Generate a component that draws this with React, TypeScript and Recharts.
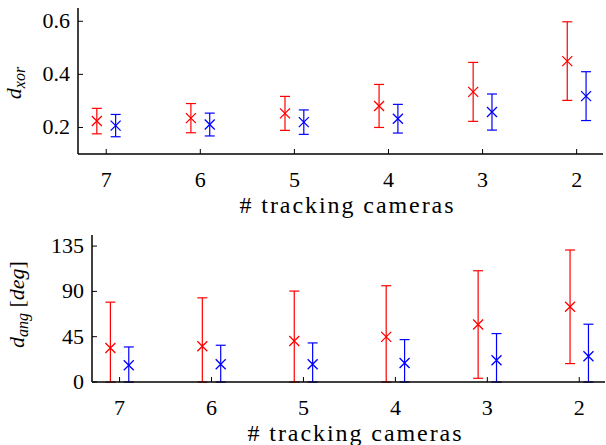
import React from 'react';
import { ScatterChart, Scatter, XAxis, YAxis, ErrorBar, Label } from 'recharts';

// ---- data ----
const cameras = [7, 6, 5, 4, 3, 2];
const xorRedMean = [0.224, 0.235, 0.253, 0.281, 0.334, 0.45];
const xorRedStd = [0.048, 0.055, 0.064, 0.081, 0.111, 0.148];
const xorBlueMean = [0.207, 0.211, 0.22, 0.233, 0.258, 0.318];
const xorBlueStd = [0.042, 0.043, 0.046, 0.054, 0.068, 0.092];
const angRedMean = [33.8, 35.5, 40.8, 44.8, 57.1, 74.7];
const angRedStd = [45.5, 48.1, 49.5, 50.8, 53.4, 56.4];
const angBlueMean = [16.6, 17.6, 17.6, 18.9, 21.6, 25.6];
const angBlueStd = [18.2, 18.9, 21.2, 23.2, 26.5, 31.8];
const xorTicks = [0.2, 0.4, 0.6];
const angTicks = [0, 45, 90, 135];
const xLabelText = '# tracking cameras';

const GROUP_OFFSET = 0.1; // red slightly left, blue slightly right of each camera tick
const X_DOMAIN: [number, number] = [1.72, 7.3];
const XOR_DOMAIN: [number, number] = [0.1, 0.65];
const ANG_DOMAIN: [number, number] = [0, 146];

// error bars are cut at the bottom of the plot box, like the reference
const build = (mean: number[], std: number[], shift: number, yMin: number) =>
  cameras.map((c, i) => ({
    x: c + shift,
    y: mean[i],
    err: [Math.min(std[i], mean[i] - yMin), std[i]],
  }));

const xorRed = build(xorRedMean, xorRedStd, GROUP_OFFSET, XOR_DOMAIN[0]);
const xorBlue = build(xorBlueMean, xorBlueStd, -GROUP_OFFSET, XOR_DOMAIN[0]);
const angRed = build(angRedMean, angRedStd, GROUP_OFFSET, ANG_DOMAIN[0]);
const angBlue = build(angBlueMean, angBlueStd, -GROUP_OFFSET, ANG_DOMAIN[0]);

const RED = '#ff0000';
const BLUE = '#0000ff';
const FONT = 'Liberation Serif';
const TICK_FS = 22;
const TICK_LEN = 5;
const FRAME_W = 1.5;

const crossShape = (color: string) => (props: any) => {
  const { cx, cy } = props;
  if (cx == null || cy == null) return <g />;
  const s = 5;
  return (
    <path
      d={`M${cx - s},${cy - s}L${cx + s},${cy + s}M${cx - s},${cy + s}L${cx + s},${cy - s}`}
      stroke={color}
      strokeWidth={1.3}
      fill="none"
    />
  );
};

const BottomTick = (props: any) => {
  const { x, y, payload } = props;
  return (
    <g>
      <line x1={x} x2={x} y1={y} y2={y - TICK_LEN} stroke="#000" strokeWidth={1} />
      <text x={x} y={y + 33} textAnchor="middle" fontFamily={FONT} fontSize={TICK_FS} fill="#000">
        {payload.value}
      </text>
    </g>
  );
};

const TopTick = (props: any) => {
  const { x, y } = props;
  return <line x1={x} x2={x} y1={y} y2={y + TICK_LEN} stroke="#000" strokeWidth={1} />;
};

const LeftTick = (props: any) => {
  const { x, y, payload } = props;
  return (
    <g>
      <line x1={x} x2={x + TICK_LEN} y1={y} y2={y} stroke="#000" strokeWidth={1} />
      <text x={x - 8} y={y + 7} textAnchor="end" fontFamily={FONT} fontSize={TICK_FS} fill="#000">
        {payload.value}
      </text>
    </g>
  );
};

const RightTick = (props: any) => {
  const { x, y } = props;
  return <line x1={x} x2={x - TICK_LEN} y1={y} y2={y} stroke="#000" strokeWidth={1} />;
};

const xLabel = (props: any) => {
  const vb = props.viewBox || {};
  const cx = vb.x + vb.width / 2 + 6;
  const y = vb.y + 59;
  return (
    <text
      x={cx}
      y={y}
      textAnchor="middle"
      fontFamily={FONT}
      fontSize={24}
      fill="#000"
      textLength={214}
      lengthAdjust="spacing"
    >
      {xLabelText}
    </text>
  );
};

const yLabelXor = (props: any) => {
  const vb = props.viewBox || {};
  const x = vb.x + 21;
  const y = vb.y + vb.height / 2 + 2;
  return (
    <text
      x={x}
      y={y}
      transform={`rotate(-90, ${x}, ${y})`}
      textAnchor="middle"
      fontFamily={FONT}
      fontSize={22}
      fill="#000"
    >
      <tspan fontStyle="italic">d</tspan>
      <tspan fontStyle="italic" fontSize={16} dy={4}>
        xor
      </tspan>
    </text>
  );
};

const yLabelAng = (props: any) => {
  const vb = props.viewBox || {};
  const x = vb.x + 24;
  const y = vb.y + vb.height / 2 - 4;
  return (
    <text
      x={x}
      y={y}
      transform={`rotate(-90, ${x}, ${y})`}
      textAnchor="middle"
      fontFamily={FONT}
      fontSize={22}
      fill="#000"
    >
      <tspan fontStyle="italic">d</tspan>
      <tspan fontStyle="italic" fontSize={16} dy={4}>
        ang
      </tspan>
      <tspan dy={-4}> [</tspan>
      <tspan fontStyle="italic">deg</tspan>
      <tspan>]</tspan>
    </text>
  );
};

type PanelProps = {
  red: any[];
  blue: any[];
  yDomain: [number, number];
  yTicks: number[];
  yWidth: number;
  height: number;
  margin: { top: number; right: number; bottom: number; left: number };
  xAxisHeight: number;
  yLabel: (p: any) => any;
};

const Panel = ({ red, blue, yDomain, yTicks, yWidth, height, margin, xAxisHeight, yLabel }: PanelProps) => (
  <ScatterChart width={606} height={height} margin={margin}>
    <XAxis
      xAxisId="b"
      type="number"
      dataKey="x"
      domain={X_DOMAIN}
      reversed
      allowDataOverflow
      ticks={cameras}
      interval={0}
      height={xAxisHeight}
      tickSize={0}
      tickMargin={0}
      tickLine={false}
      axisLine={{ stroke: '#000', strokeWidth: FRAME_W }}
      tick={<BottomTick />}
    >
      <Label content={xLabel} />
    </XAxis>
    <XAxis
      xAxisId="t"
      orientation="top"
      type="number"
      dataKey="x"
      domain={X_DOMAIN}
      reversed
      allowDataOverflow
      ticks={cameras}
      interval={0}
      height={0}
      tickSize={0}
      tickMargin={0}
      tickLine={false}
      axisLine={{ stroke: '#000', strokeWidth: FRAME_W }}
      tick={<TopTick />}
    />
    <YAxis
      yAxisId="l"
      type="number"
      dataKey="y"
      domain={yDomain}
      allowDataOverflow
      ticks={yTicks}
      interval={0}
      width={yWidth}
      tickSize={0}
      tickMargin={0}
      tickLine={false}
      axisLine={{ stroke: '#000', strokeWidth: FRAME_W }}
      tick={<LeftTick />}
    >
      <Label content={yLabel} />
    </YAxis>
    <YAxis
      yAxisId="r"
      orientation="right"
      type="number"
      dataKey="y"
      domain={yDomain}
      allowDataOverflow
      ticks={yTicks}
      interval={0}
      width={0}
      tickSize={0}
      tickMargin={0}
      tickLine={false}
      axisLine={{ stroke: '#000', strokeWidth: FRAME_W }}
      tick={<RightTick />}
    />
    <Scatter
      data={red}
      xAxisId="b"
      yAxisId="l"
      dataKey="y"
      fill={RED}
      shape={crossShape(RED)}
      isAnimationActive={false}
    >
      <ErrorBar dataKey="err" direction="y" width={5} stroke={RED} strokeWidth={1.2} isAnimationActive={false} />
    </Scatter>
    <Scatter
      data={blue}
      xAxisId="b"
      yAxisId="l"
      dataKey="y"
      fill={BLUE}
      shape={crossShape(BLUE)}
      isAnimationActive={false}
    >
      <ErrorBar dataKey="err" direction="y" width={5} stroke={BLUE} strokeWidth={1.2} isAnimationActive={false} />
    </Scatter>
  </ScatterChart>
);

export default function App() {
  return (
    <div style={{ width: 606, height: 445, background: '#fff' }}>
      <style>{`body { margin: 0; }`}</style>
      <Panel
        red={xorRed}
        blue={xorBlue}
        yDomain={XOR_DOMAIN}
        yTicks={xorTicks}
        yWidth={78}
        height={220}
        margin={{ top: 8, right: 3, bottom: 0, left: 0 }}
        xAxisHeight={66}
        yLabel={yLabelXor}
      />
      <Panel
        red={angRed}
        blue={angBlue}
        yDomain={ANG_DOMAIN}
        yTicks={angTicks}
        yWidth={92}
        height={225}
        margin={{ top: 15, right: 1, bottom: 0, left: 0 }}
        xAxisHeight={63}
        yLabel={yLabelAng}
      />
    </div>
  );
}
